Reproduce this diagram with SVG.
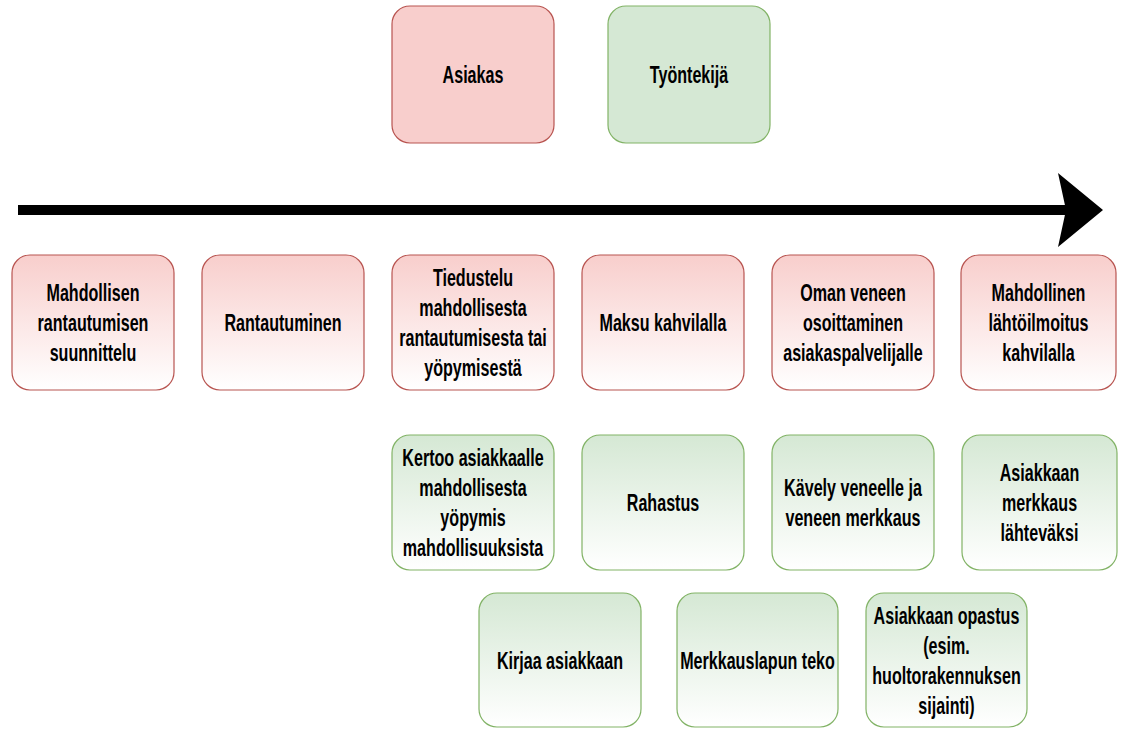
<svg xmlns="http://www.w3.org/2000/svg" width="1124" height="729" viewBox="0 0 1124 729">
  <style>
    .r { fill: #f8cecc; stroke: #b85450; stroke-width: 1.2; }
    .rg { fill: url(#gr); stroke: #b85450; stroke-width: 1.2; }
    .g { fill: #d5e8d4; stroke: #82b366; stroke-width: 1.2; }
    .gg { fill: url(#gg); stroke: #82b366; stroke-width: 1.2; }
    text { font-family: "Liberation Sans", Arial, sans-serif; font-weight: bold; font-size: 23px; fill: #000; text-anchor: middle; }
  </style>
  <defs>
    <linearGradient id="gr" x1="0" y1="0" x2="0" y2="1">
      <stop offset="0" stop-color="#f8cecc"/>
      <stop offset="1" stop-color="#ffffff"/>
    </linearGradient>
    <linearGradient id="gg" x1="0" y1="0" x2="0" y2="1">
      <stop offset="0" stop-color="#d5e8d4"/>
      <stop offset="1" stop-color="#ffffff"/>
    </linearGradient>
  </defs>
  <rect width="1124" height="729" fill="#ffffff"/>

  <g id="connectors">
    <line x1="18" y1="210" x2="1066" y2="210" stroke="#000" stroke-width="10"/>
    <polygon points="1058,173 1103,210 1058,247 1066,210" fill="#000"/>
  </g>

  <g id="asiakas">
    <rect class="r" x="392" y="6" width="162" height="137" rx="18"/>
    <text transform="translate(473 0) scale(0.7 1)"><tspan x="0" y="83">Asiakas</tspan></text>
  </g>
  <g id="tyontekija">
    <rect class="g" x="608" y="6" width="162" height="137" rx="18"/>
    <text transform="translate(689 0) scale(0.7 1)"><tspan x="0" y="83">Työntekijä</tspan></text>
  </g>

  <g id="r1">
    <rect class="rg" x="12" y="255" width="162" height="135" rx="18"/>
    <text transform="translate(93 0) scale(0.7 1)"><tspan x="0" y="301">Mahdollisen</tspan><tspan x="0" y="331">rantautumisen</tspan><tspan x="0" y="361">suunnittelu</tspan></text>
  </g>
  <g id="r2">
    <rect class="rg" x="202" y="255" width="162" height="135" rx="18"/>
    <text transform="translate(283 0) scale(0.7 1)"><tspan x="0" y="331">Rantautuminen</tspan></text>
  </g>
  <g id="r3">
    <rect class="rg" x="392" y="255" width="162" height="135" rx="18"/>
    <text transform="translate(473 0) scale(0.7 1)"><tspan x="0" y="286">Tiedustelu</tspan><tspan x="0" y="316">mahdollisesta</tspan><tspan x="0" y="346">rantautumisesta tai</tspan><tspan x="0" y="376">yöpymisestä</tspan></text>
  </g>
  <g id="r4">
    <rect class="rg" x="582" y="255" width="162" height="135" rx="18"/>
    <text transform="translate(663 0) scale(0.7 1)"><tspan x="0" y="331">Maksu kahvilalla</tspan></text>
  </g>
  <g id="r5">
    <rect class="rg" x="772" y="255" width="162" height="135" rx="18"/>
    <text transform="translate(853 0) scale(0.7 1)"><tspan x="0" y="301">Oman veneen</tspan><tspan x="0" y="331">osoittaminen</tspan><tspan x="0" y="361">asiakaspalvelijalle</tspan></text>
  </g>
  <g id="r6">
    <rect class="rg" x="961" y="255" width="155" height="135" rx="18"/>
    <text transform="translate(1038.5 0) scale(0.7 1)"><tspan x="0" y="301">Mahdollinen</tspan><tspan x="0" y="331">lähtöilmoitus</tspan><tspan x="0" y="361">kahvilalla</tspan></text>
  </g>

  <g id="g1">
    <rect class="gg" x="392" y="435" width="162" height="135" rx="18"/>
    <text transform="translate(473 0) scale(0.7 1)"><tspan x="0" y="466">Kertoo asiakkaalle</tspan><tspan x="0" y="496">mahdollisesta</tspan><tspan x="0" y="526">yöpymis</tspan><tspan x="0" y="556">mahdollisuuksista</tspan></text>
  </g>
  <g id="g2">
    <rect class="gg" x="582" y="435" width="162" height="135" rx="18"/>
    <text transform="translate(663 0) scale(0.7 1)"><tspan x="0" y="511">Rahastus</tspan></text>
  </g>
  <g id="g3">
    <rect class="gg" x="772" y="435" width="162" height="135" rx="18"/>
    <text transform="translate(853 0) scale(0.7 1)"><tspan x="0" y="496">Kävely veneelle ja</tspan><tspan x="0" y="526">veneen merkkaus</tspan></text>
  </g>
  <g id="g4">
    <rect class="gg" x="962" y="435" width="155" height="135" rx="18"/>
    <text transform="translate(1039.5 0) scale(0.7 1)"><tspan x="0" y="481">Asiakkaan</tspan><tspan x="0" y="511">merkkaus</tspan><tspan x="0" y="541">lähteväksi</tspan></text>
  </g>

  <g id="g5">
    <rect class="gg" x="479" y="593" width="162" height="134" rx="18"/>
    <text transform="translate(560 0) scale(0.7 1)"><tspan x="0" y="669">Kirjaa asiakkaan</tspan></text>
  </g>
  <g id="g6">
    <rect class="gg" x="677" y="593" width="161" height="134" rx="18"/>
    <text transform="translate(757.5 0) scale(0.7 1)"><tspan x="0" y="669">Merkkauslapun teko</tspan></text>
  </g>
  <g id="g7">
    <rect class="gg" x="866" y="593" width="161" height="134" rx="18"/>
    <text transform="translate(946.5 0) scale(0.7 1)"><tspan x="0" y="624">Asiakkaan opastus</tspan><tspan x="0" y="654">(esim.</tspan><tspan x="0" y="684">huoltorakennuksen</tspan><tspan x="0" y="714">sijainti)</tspan></text>
  </g>
</svg>
